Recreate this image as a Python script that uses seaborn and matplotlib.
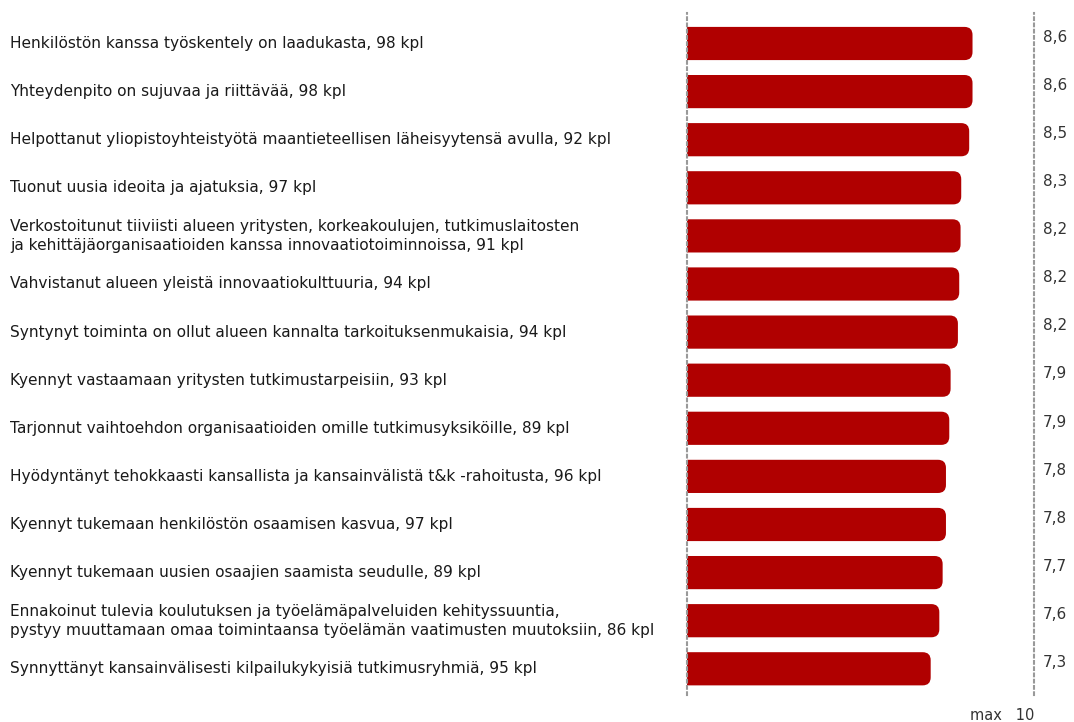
import matplotlib
matplotlib.use("Agg")
import matplotlib.pyplot as plt
from matplotlib.patches import FancyBboxPatch
import matplotlib.transforms as mtransforms
import seaborn as sns
import pandas as pd

# väittämät ja keskiarvot (asteikko max 10)
labels = [
    "Henkilöstön kanssa työskentely on laadukasta, 98 kpl",
    "Yhteydenpito on sujuvaa ja riittävää, 98 kpl",
    "Helpottanut yliopistoyhteistyötä maantieteellisen läheisyytensä avulla, 92 kpl",
    "Tuonut uusia ideoita ja ajatuksia, 97 kpl",
    "Verkostoitunut tiiviisti alueen yritysten, korkeakoulujen, tutkimuslaitosten\nja kehittäjäorganisaatioiden kanssa innovaatiotoiminnoissa, 91 kpl",
    "Vahvistanut alueen yleistä innovaatiokulttuuria, 94 kpl",
    "Syntynyt toiminta on ollut alueen kannalta tarkoituksenmukaisia, 94 kpl",
    "Kyennyt vastaamaan yritysten tutkimustarpeisiin, 93 kpl",
    "Tarjonnut vaihtoehdon organisaatioiden omille tutkimusyksiköille, 89 kpl",
    "Hyödyntänyt tehokkaasti kansallista ja kansainvälistä t&k -rahoitusta, 96 kpl",
    "Kyennyt tukemaan henkilöstön osaamisen kasvua, 97 kpl",
    "Kyennyt tukemaan uusien osaajien saamista seudulle, 89 kpl",
    "Ennakoinut tulevia koulutuksen ja työelämäpalveluiden kehityssuuntia,\npystyy muuttamaan omaa toimintaansa työelämän vaatimusten muutoksiin, 86 kpl",
    "Synnyttänyt kansainvälisesti kilpailukykyisiä tutkimusryhmiä, 95 kpl",
]
values = [8.60, 8.60, 8.50, 8.26, 8.24, 8.20, 8.16, 7.94, 7.90, 7.80, 7.80, 7.70, 7.60, 7.34]

df = pd.DataFrame({"item": labels, "score": values})

sns.set_style("white")
plt.rcParams["font.family"] = ["DejaVu Sans"]

W, H = 1074, 722
fig = plt.figure(figsize=(W / 100, H / 100), dpi=100)
ax = fig.add_axes([687 / W, 1 - 695 / H, (1034 - 687) / W, (695 - 13) / H])

red = "#b00000"
sns.barplot(data=df, y="item", x="score", color=red, saturation=1, width=0.69, ax=ax)

xmax = 347 / 33.2
ax.set_xlim(0, xmax)
ax.set_ylim(13.545, -0.634)

# pyöristetyt oikeat päädyt
r_px = 8
rx = r_px / 33.2
ry = r_px / 48.1
for p in list(ax.patches):
    x0, y0 = p.get_x(), p.get_y()
    w, h = p.get_width(), p.get_height()
    fb = FancyBboxPatch((x0 - 1, y0), w + 1, h,
                        boxstyle=f"round,pad=0,rounding_size={rx}",
                        mutation_aspect=ry / rx,
                        facecolor=red, edgecolor="none", clip_on=True)
    p.remove()
    ax.add_patch(fb)

ax.set_xticks([])
ax.set_yticks([])
ax.set_xlabel("")
ax.set_ylabel("")
for s in ["top", "bottom"]:
    ax.spines[s].set_visible(False)
for s in ["left", "right"]:
    ax.spines[s].set_color("#999999")
    ax.spines[s].set_linewidth(1.5)
    ax.spines[s].set_linestyle((0, (1.3, 1.7)))

trans = mtransforms.blended_transform_factory(fig.transFigure, ax.transData)
for i, (lab, v) in enumerate(zip(labels, values)):
    fig.text(10 / W, i, lab, transform=trans, ha="left", va="center",
             fontsize=11.1, color="#1a1a1a", linespacing=1.35)
    fig.text(1043 / W, i - 0.13, f"{v:.1f}".replace(".", ","), transform=trans,
             ha="left", va="center", fontsize=11, color="#333333")

fig.text(1034 / W, 1 - 715 / H, "max   10", ha="right", va="center",
         fontsize=10.5, color="#333333")

fig.savefig("out.png", dpi=100)
